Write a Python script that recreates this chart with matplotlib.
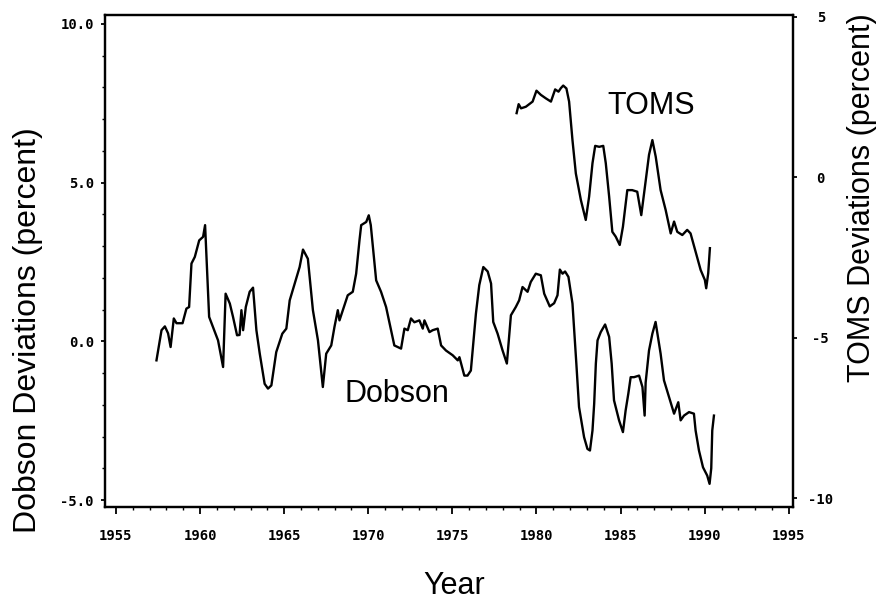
import numpy as np
import matplotlib
matplotlib.use("Agg")
import matplotlib.pyplot as plt
from matplotlib.ticker import MultipleLocator

# Dobson deviations (percent)
dobson_year = [1957.41, 1957.61, 1957.71, 1957.91, 1958.10, 1958.25, 1958.44, 1958.60, 1958.96,
               1959.19, 1959.35, 1959.49, 1959.69, 1959.95, 1960.18, 1960.30, 1960.33, 1960.54,
               1960.77, 1961.07, 1961.37, 1961.52, 1961.77, 1961.96, 1962.20, 1962.35, 1962.46,
               1962.56, 1962.72, 1962.95, 1963.15, 1963.35, 1963.55, 1963.84, 1964.04, 1964.24,
               1964.53, 1964.89, 1965.13, 1965.33, 1965.72, 1965.92, 1966.12, 1966.41, 1966.71,
               1967.01, 1967.30, 1967.50, 1967.80, 1967.99, 1968.19, 1968.29, 1968.59, 1968.78,
               1969.08, 1969.28, 1969.48, 1969.58, 1969.88, 1970.03, 1970.15, 1970.47, 1970.76,
               1971.06, 1971.55, 1971.95, 1972.15, 1972.35, 1972.54, 1972.74, 1973.04, 1973.24,
               1973.34, 1973.64, 1973.83, 1974.13, 1974.33, 1974.62, 1975.02, 1975.32, 1975.42,
               1975.71, 1975.90, 1976.10, 1976.40, 1976.60, 1976.84, 1977.10, 1977.30, 1977.43,
               1977.69, 1977.98, 1978.24, 1978.48, 1978.77, 1978.97, 1979.17, 1979.47, 1979.66,
               1979.96, 1980.26, 1980.46, 1980.79, 1981.05, 1981.25, 1981.39, 1981.55, 1981.70,
               1981.90, 1982.14, 1982.37, 1982.53, 1982.83, 1983.03, 1983.18, 1983.33, 1983.43,
               1983.53, 1983.63, 1983.82, 1984.08, 1984.32, 1984.47, 1984.61, 1984.91, 1985.14,
               1985.30, 1985.46, 1985.60, 1985.80, 1986.10, 1986.30, 1986.43, 1986.49, 1986.69,
               1986.89, 1987.08, 1987.38, 1987.58, 1987.88, 1988.18, 1988.43, 1988.57, 1988.77,
               1989.07, 1989.36, 1989.46, 1989.66, 1989.90, 1990.15, 1990.29, 1990.39, 1990.45,
               1990.55]
dobson_dev = [-0.60, 0.03, 0.35, 0.47, 0.25, -0.18, 0.72, 0.57, 0.57,
              1.03, 1.08, 2.45, 2.66, 3.18, 3.29, 3.66, 3.29, 0.77,
              0.45, 0.03, -0.81, 1.50, 1.19, 0.77, 0.19, 0.20, 0.98,
              0.35, 1.08, 1.56, 1.69, 0.35, -0.39, -1.34, -1.49, -1.39,
              -0.34, 0.24, 0.40, 1.29, 1.98, 2.34, 2.89, 2.60, 0.98,
              0.03, -1.44, -0.39, -0.13, 0.45, 0.98, 0.66, 1.14, 1.45,
              1.56, 2.13, 3.19, 3.66, 3.76, 3.97, 3.66, 1.92, 1.56,
              1.08, -0.13, -0.23, 0.40, 0.35, 0.72, 0.60, 0.66, 0.40,
              0.66, 0.29, 0.35, 0.40, -0.13, -0.29, -0.44, -0.60, -0.50,
              -1.08, -1.08, -0.92, 0.87, 1.77, 2.34, 2.20, 1.82, 0.61,
              0.24, -0.28, -0.70, 0.82, 1.08, 1.29, 1.71, 1.56, 1.87,
              2.13, 2.08, 1.50, 1.10, 1.20, 1.45, 2.26, 2.13, 2.20,
              2.03, 1.19, -0.70, -2.07, -3.02, -3.39, -3.44, -2.81, -1.97,
              -0.70, 0.03, 0.29, 0.53, 0.14, -0.70, -1.86, -2.49, -2.86,
              -2.18, -1.65, -1.13, -1.13, -1.08, -1.44, -2.34, -1.30, -0.29,
              0.24, 0.61, -0.39, -1.23, -1.76, -2.28, -1.92, -2.49, -2.34,
              -2.23, -2.28, -2.81, -3.44, -3.97, -4.23, -4.49, -4.00, -2.81,
              -2.34]

# TOMS deviations (percent), right-hand axis
toms_year = [1978.82, 1978.94, 1979.08, 1979.37, 1979.77, 1980.00, 1980.26, 1980.56, 1980.86,
             1981.11, 1981.31, 1981.45, 1981.59, 1981.78, 1981.94, 1982.14, 1982.34, 1982.64,
             1982.93, 1983.13, 1983.33, 1983.49, 1983.73, 1983.97, 1984.12, 1984.32, 1984.51,
             1984.71, 1984.95, 1985.14, 1985.40, 1985.69, 1985.99, 1986.23, 1986.50, 1986.69,
             1986.89, 1987.09, 1987.38, 1987.68, 1987.98, 1988.18, 1988.37, 1988.67, 1988.96,
             1989.16, 1989.46, 1989.76, 1990.01, 1990.09, 1990.21, 1990.31]
toms_dev = [2.00, 2.28, 2.15, 2.20, 2.36, 2.70, 2.57, 2.46, 2.36,
            2.74, 2.67, 2.78, 2.86, 2.77, 2.36, 1.16, 0.12, -0.71,
            -1.33, -0.60, 0.44, 0.98, 0.95, 0.98, 0.44, -0.60, -1.70,
            -1.85, -2.11, -1.54, -0.40, -0.40, -0.45, -1.18, -0.08, 0.70,
            1.16, 0.64, -0.40, -1.02, -1.75, -1.38, -1.70, -1.80, -1.64,
            -1.75, -2.32, -2.89, -3.20, -3.46, -2.99, -2.21]

left_ticks = [-5.0, 0.0, 5.0, 10.0]
right_ticks = [-10, -5, 0, 5]
year_ticks = [1955, 1960, 1965, 1970, 1975, 1980, 1985, 1990, 1995]

tick_font = dict(family="DejaVu Sans Mono", weight="bold", size=10)
label_font = dict(family="Liberation Sans", size=22)

fig = plt.figure(figsize=(8.78, 6.01), dpi=100)
ax = fig.add_axes([105 / 878, 1 - 507 / 601, 688 / 878, 492 / 601])
ax2 = ax.twinx()

ax.plot(dobson_year, dobson_dev, color="black", lw=1.7)
ax2.plot(toms_year, toms_dev, color="black", lw=1.7)

ax.set_xlim(1954.35, 1995.25)
ax.set_ylim(-5.22, 10.28)
ax2.set_ylim(-10.28, 5.06)

ax.set_xticks(year_ticks)
ax.set_xticklabels([str(y) for y in year_ticks], fontdict=tick_font)
ax.xaxis.set_minor_locator(MultipleLocator(1))
ax.set_yticks(left_ticks)
ax.set_yticklabels(["%.1f" % v for v in left_ticks], fontdict=tick_font)
ax.yaxis.set_minor_locator(MultipleLocator(1))
ax2.set_yticks(right_ticks)
ax2.set_yticklabels([str(v) for v in right_ticks], fontdict=tick_font)
for lab in ax2.get_yticklabels():
    lab.set_ha("center")

ax.tick_params(axis="x", which="major", direction="out", length=5, width=1.3, pad=11)
ax.tick_params(axis="x", which="minor", direction="out", length=2.5, width=1)
ax.tick_params(axis="y", which="major", direction="out", length=3, width=1.3, pad=5)
ax.tick_params(axis="y", which="minor", direction="out", length=2, width=1)
ax2.tick_params(axis="y", which="major", direction="out", length=3, width=1.3, pad=17)

for a in (ax, ax2):
    for sp in a.spines.values():
        sp.set_linewidth(1.6)

ax.set_xlabel("Year", **label_font)
ax.xaxis.set_label_coords(0.507, -0.13)
ax.set_ylabel("Dobson Deviations (percent)", family="Liberation Sans", size=23)
ax.yaxis.label.set_va("center")
ax.yaxis.set_label_coords(-0.112, 0.36)
ax2.set_ylabel("TOMS Deviations (percent)", **label_font)
ax2.yaxis.label.set_va("center")
ax2.yaxis.set_label_coords(1.100, 0.628)

ax.text(1971.7, -1.65, "Dobson", ha="center", va="center", **label_font)
ax.text(1986.8, 7.4, "TOMS", ha="center", va="center", **label_font)

fig.savefig("out.png", dpi=100)
